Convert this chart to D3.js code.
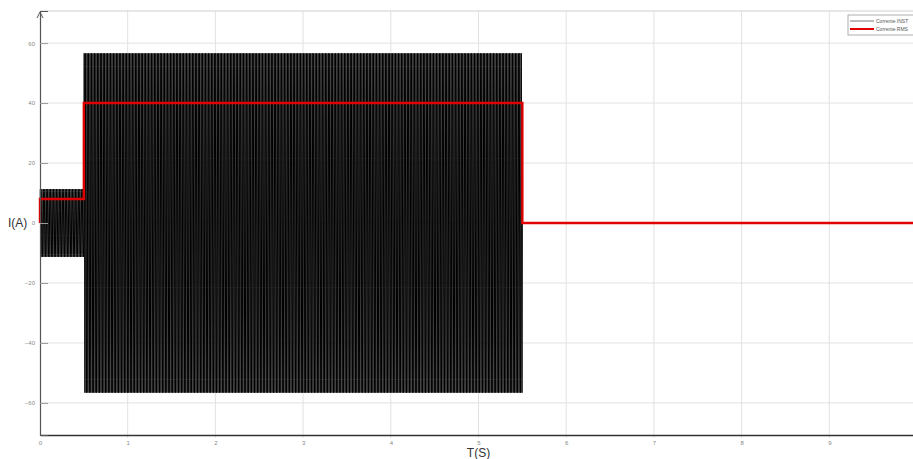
<!DOCTYPE html>
<html>
<head>
<meta charset="utf-8">
<style>
  body { margin: 0; background: #fff; }
  svg { display: block; font-family: Arial, 'Liberation Sans', sans-serif; }
  .grid line { stroke: #e2e2e2; stroke-width: 1px; }
  .tick text { fill: #888; font-size: 6px; }
</style>
</head>
<body>
<svg width="913" height="459"></svg>
<script src="https://d3js.org/d3.v7.min.js"></script>
<script>
// signal segments (start s, end s, peak A, rms A)
let segStart = [0, 0.5, 5.5];
let segEnd   = [0.5, 5.5, 10];
let segPeak  = [11.3, 56.6, 0];
let segRms   = [8, 40, 0];
let freqHz = 60;

let xTicks = [0, 1, 2, 3, 4, 5, 6, 7, 8, 9];
let yTicks = [-60, -40, -20, 0, 20, 40, 60];
let legendNames = ["Corrente INST", "Corrente RMS"];

let svg = d3.select("svg");
let margin = { top: 11, right: -4, bottom: 24, left: 40 };
let width = 913, height = 459;

let x = d3.scaleLinear().domain([0, 10]).range([margin.left, width - margin.right]);
let y = d3.scaleLinear().domain([-70.7, 70.7]).range([height - margin.bottom, margin.top]);

// grid
svg.append("g").attr("class", "grid")
  .selectAll("line").data(xTicks.slice(1)).join("line")
  .attr("x1", d => x(d)).attr("x2", d => x(d))
  .attr("y1", margin.top).attr("y2", height - margin.bottom + 3);
svg.append("g").attr("class", "grid")
  .selectAll("line").data(yTicks).join("line")
  .attr("x1", margin.left).attr("x2", width)
  .attr("y1", d => y(d)).attr("y2", d => y(d));
svg.append("line")
  .attr("x1", margin.left).attr("x2", width)
  .attr("y1", margin.top).attr("y2", margin.top)
  .attr("stroke", "#cfcfcf");

// instantaneous current
let samplesPerCycle = 16;
let pts = [];
segStart.forEach((t0, i) => {
  if (segPeak[i] === 0) return;
  let n = Math.round((segEnd[i] - t0) * freqHz * samplesPerCycle);
  for (let k = 0; k <= n; k++) {
    let t = t0 + (segEnd[i] - t0) * k / n;
    pts.push([t, segPeak[i] * Math.sin(2 * Math.PI * freqHz * t)]);
  }
});
pts.push([segEnd[1], 0], [10, 0]);

svg.append("path")
  .datum(pts)
  .attr("fill", "none")
  .attr("stroke", "#000")
  .attr("stroke-width", 1)
  .attr("d", d3.line().x(d => x(d[0])).y(d => y(d[1])));

// rms current (step)
let rmsPts = [[0, 0]];
segStart.forEach((t0, i) => {
  rmsPts.push([t0, segRms[i]], [segEnd[i], segRms[i]]);
});
svg.append("path")
  .datum(rmsPts)
  .attr("fill", "none")
  .attr("stroke", "#e00000")
  .attr("stroke-width", 2.4)
  .attr("d", d3.line().x(d => x(d[0])).y(d => y(d[1])));

// axes
let xAxis = svg.append("g")
  .attr("transform", `translate(0,${height - margin.bottom})`)
  .call(d3.axisBottom(x).tickValues(xTicks).tickSize(0).tickPadding(6).tickFormat(d3.format("d")));
xAxis.select(".domain").attr("stroke", "#333").attr("stroke-width", 1.5);

let yAxis = svg.append("g")
  .attr("transform", `translate(${margin.left},0)`)
  .call(d3.axisLeft(y).tickValues(yTicks).tickSize(-8).tickPadding(5));
yAxis.select(".domain").attr("stroke", "#555").attr("stroke-width", 1.2);
yAxis.selectAll(".tick line").attr("stroke", "#999");

// arrow on y axis
svg.append("path")
  .attr("d", `M${margin.left - 3},${margin.top + 7} L${margin.left},${margin.top + 1} L${margin.left + 3},${margin.top + 7}`)
  .attr("fill", "none").attr("stroke", "#555").attr("stroke-width", 1);

// axis labels
svg.append("text").text("I(A)")
  .attr("x", 8).attr("y", y(0) + 4)
  .attr("font-size", 12).attr("fill", "#333");
svg.append("text").text("T(S)")
  .attr("x", x(5)).attr("y", 457)
  .attr("text-anchor", "middle")
  .attr("font-size", 12).attr("fill", "#333");

// legend
let lg = svg.append("g").attr("transform", "translate(848,15)");
lg.append("rect").attr("width", 70).attr("height", 20)
  .attr("fill", "#fff").attr("stroke", "#999").attr("stroke-width", 0.8);
let legendColors = ["#777", "#e00000"];
let legendWidths = [1, 2];
legendNames.forEach((name, i) => {
  lg.append("line").attr("x1", 2).attr("x2", 26)
    .attr("y1", 6 + i * 8).attr("y2", 6 + i * 8)
    .attr("stroke", legendColors[i]).attr("stroke-width", legendWidths[i]);
  lg.append("text").text(name)
    .attr("x", 28).attr("y", 8 + i * 8)
    .attr("font-size", 5).attr("fill", "#555");
});
</script>
</body>
</html>
